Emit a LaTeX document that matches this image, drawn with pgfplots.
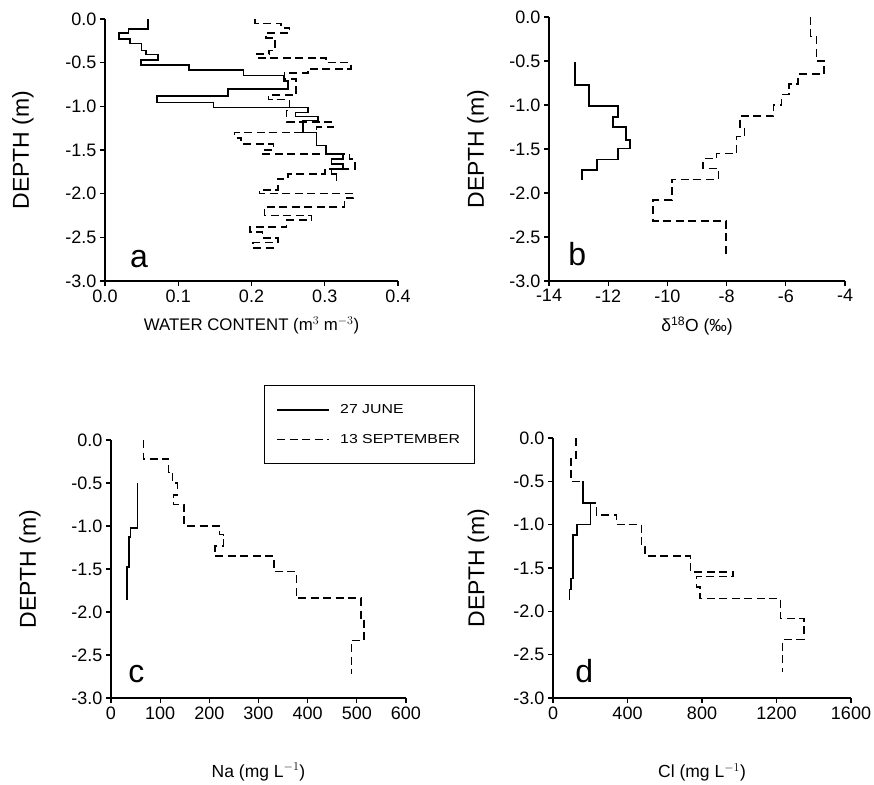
\documentclass[border=0pt]{standalone}
\usepackage{fontspec}
\setmainfont{Liberation Sans}
\newfontfamily\legfont[FakeStretch=1.22]{Liberation Sans}
\usepackage{pgfplots}
\pgfplotsset{compat=1.18}

\pgfplotsset{
  panel/.style={
    scale only axis,
    axis lines*=left,
    axis line style={line width=1.2pt},
    tick align=outside,
    major tick length=5pt,
    tick style={line width=1.1pt,black},
    ymin=-3, ymax=0,
    ytick={-3,-2.5,-2,-1.5,-1,-0.5,0},
    yticklabel style={/pgf/number format/.cd,fixed,fixed zerofill,precision=1},
    tick label style={font=\fontsize{18}{18}\selectfont},
    /pgf/number format/assume math mode=true,
    ylabel={DEPTH (m)},
    ylabel style={font=\fontsize{23}{23}\selectfont, anchor=center},
    xlabel style={font=\fontsize{17.5}{17.5}\selectfont, anchor=center},
    clip=false,
  },
}
\tikzset{
  june/.style={black, line width=1.6pt},
  sept/.style={black, line width=1.6pt, dash pattern=on 8pt off 4.5pt},
  lett/.style={anchor=south west, inner sep=0pt, font=\fontsize{32}{32}\selectfont},
}

\begin{document}
\begin{tikzpicture}
\useasboundingbox (0,0) rectangle (874pt,784pt);

% a: water content
\begin{axis}[panel, at={(105pt,503pt)}, anchor=south west,
  width=293pt, height=262pt,
  xmin=0, xmax=0.4, xtick={0,0.1,0.2,0.3,0.4},
  xticklabel style={/pgf/number format/.cd,fixed,fixed zerofill,precision=1},
  xlabel={WATER CONTENT (m$^{3}$ m$^{-3}$)},
  xlabel style={at={(axis description cs:0.5,-0.17)}, font=\fontsize{16.8}{16.8}\selectfont},
  ylabel style={at={(axis description cs:-0.28,0.5)}},
]
\addplot[june] coordinates {
(0.059,0) (0.059,-0.114) (0.032,-0.114) (0.032,-0.16) (0.0195,-0.16) (0.0195,-0.228)
(0.034,-0.228) (0.034,-0.281) (0.05,-0.281) (0.05,-0.361) (0.056,-0.361) (0.056,-0.406)
(0.072,-0.406) (0.072,-0.471) (0.049,-0.471) (0.049,-0.524) (0.115,-0.524) (0.115,-0.585)
(0.189,-0.585) (0.189,-0.646) (0.244,-0.646) (0.244,-0.71) (0.25,-0.71) (0.25,-0.805)
(0.168,-0.805) (0.168,-0.88) (0.071,-0.88) (0.071,-0.957) (0.148,-0.957) (0.148,-1.014)
(0.277,-1.014) (0.277,-1.07) (0.26,-1.07) (0.26,-1.116) (0.291,-1.116) (0.291,-1.16)
(0.27,-1.16) (0.27,-1.30) (0.289,-1.30) (0.289,-1.45) (0.302,-1.45) (0.302,-1.546)
(0.325,-1.546) (0.325,-1.60) (0.309,-1.60) (0.309,-1.66) (0.325,-1.66) (0.325,-1.716)
(0.309,-1.716) (0.309,-1.773) (0.316,-1.773) (0.316,-1.85)
};
\addplot[sept] coordinates {
(0.205,0) (0.205,-0.05) (0.24,-0.05) (0.24,-0.10) (0.252,-0.10) (0.252,-0.16)
(0.22,-0.16) (0.22,-0.215) (0.232,-0.215) (0.232,-0.36) (0.224,-0.36) (0.224,-0.40)
(0.207,-0.40) (0.207,-0.445) (0.302,-0.445) (0.302,-0.50) (0.336,-0.50) (0.336,-0.57)
(0.277,-0.57) (0.277,-0.62) (0.245,-0.62) (0.245,-0.69) (0.261,-0.69) (0.261,-0.873)
(0.223,-0.873) (0.223,-0.92) (0.252,-0.92) (0.252,-1.05) (0.248,-1.05) (0.248,-1.177)
(0.311,-1.177) (0.311,-1.24) (0.289,-1.24) (0.289,-1.30) (0.177,-1.30) (0.177,-1.36)
(0.186,-1.36) (0.186,-1.43) (0.23,-1.43) (0.23,-1.50) (0.216,-1.50) (0.216,-1.546)
(0.334,-1.546) (0.334,-1.60) (0.341,-1.60) (0.341,-1.716) (0.30,-1.716) (0.30,-1.773)
(0.25,-1.773) (0.25,-1.83) (0.236,-1.83) (0.236,-1.96) (0.211,-1.96) (0.211,-2.0)
(0.339,-2.0) (0.339,-2.05) (0.327,-2.05) (0.327,-2.15) (0.218,-2.15) (0.218,-2.25)
(0.282,-2.25) (0.282,-2.30) (0.248,-2.30) (0.248,-2.38) (0.198,-2.38) (0.198,-2.44)
(0.215,-2.44) (0.215,-2.506) (0.236,-2.506) (0.236,-2.56) (0.202,-2.56) (0.202,-2.62)
(0.232,-2.62)
};
\node[lett] at (rel axis cs:0.085,0.05) {a};
\end{axis}

% b: delta 18O
\begin{axis}[panel, at={(549pt,503pt)}, anchor=south west,
  width=296pt, height=264pt,
  xmin=-14, xmax=-4, xtick={-14,-12,-10,-8,-6,-4},
  xlabel={δ\textsuperscript{18}O (‰)},
  xlabel style={at={(axis description cs:0.5,-0.17)}},
  ylabel style={at={(axis description cs:-0.24,0.5)}},
]
\addplot[june] coordinates {
(-13.12,-0.51) (-13.12,-0.776) (-12.64,-0.776) (-12.64,-1.014) (-11.66,-1.014) (-11.66,-1.135)
(-11.83,-1.135) (-11.83,-1.249) (-11.40,-1.249) (-11.40,-1.40) (-11.26,-1.40) (-11.26,-1.494)
(-11.66,-1.494) (-11.66,-1.62) (-12.37,-1.62) (-12.37,-1.74) (-12.885,-1.74) (-12.885,-1.854)
};
\addplot[sept] coordinates {
(-5.16,0) (-5.16,-0.22) (-4.97,-0.22) (-4.97,-0.5) (-4.71,-0.5) (-4.71,-0.65)
(-5.58,-0.65) (-5.58,-0.76) (-5.9,-0.76) (-5.9,-0.88) (-6.14,-0.88) (-6.14,-1.0)
(-6.42,-1.0) (-6.42,-1.127) (-7.55,-1.127) (-7.55,-1.25) (-7.4,-1.25) (-7.4,-1.36)
(-7.66,-1.36) (-7.66,-1.55) (-8.34,-1.55) (-8.34,-1.607) (-8.79,-1.607) (-8.79,-1.72)
(-8.28,-1.72) (-8.28,-1.846) (-9.85,-1.846) (-9.85,-2.08) (-10.48,-2.08) (-10.48,-2.32)
(-8.02,-2.32) (-8.02,-2.705)
};
\node[lett] at (rel axis cs:0.065,0.057) {b};
\end{axis}

% c: Na
\begin{axis}[panel, at={(111pt,86pt)}, anchor=south west,
  width=295pt, height=258pt,
  xmin=0, xmax=600, xtick={0,100,...,600},
  xlabel={Na (mg L$^{-1}$)},
  xlabel style={at={(axis description cs:0.5,-0.287)}},
  ylabel style={at={(axis description cs:-0.275,0.5)}},
  legend style={at={(axis description cs:0.519,1.213)}, anchor=north west,
    draw=black, line width=1pt, font=\legfont\fontsize{13}{13}\selectfont,
    inner xsep=12pt, inner ysep=19pt, row sep=19pt, cells={anchor=west},
    nodes={inner ysep=0pt, inner xsep=2pt}},
  /tikz/every odd column/.append style={column sep=8pt},
  legend image code/.code={\draw[#1] (0pt,0pt) -- (52pt,0pt);},
]
\addplot[june] coordinates {
(54,-0.5) (54,-1.02) (40,-1.02) (40,-1.13) (36,-1.13) (36,-1.48) (33,-1.48) (33,-1.86)
};
\addlegendentry{27 JUNE}
\addplot[sept] coordinates {
(66,0) (66,-0.22) (117,-0.22) (117,-0.38) (125,-0.38) (125,-0.50) (135,-0.50) (135,-0.64)
(127,-0.64) (127,-0.75) (149,-0.75) (149,-1.0) (221,-1.0) (221,-1.10) (229,-1.10) (229,-1.23)
(212,-1.23) (212,-1.35) (331,-1.35) (331,-1.53) (377,-1.53) (377,-1.84) (508,-1.84) (508,-2.08)
(515,-2.08) (515,-2.33) (489,-2.33) (489,-2.72)
};
\addlegendentry{13 SEPTEMBER}
\node[lett] at (rel axis cs:0.058,0.058) {c};
\end{axis}

% d: Cl
\begin{axis}[panel, at={(553pt,86pt)}, anchor=south west,
  width=298pt, height=260pt,
  xmin=0, xmax=1600, xtick={0,400,800,1200,1600},
  xticklabel style={/pgf/number format/1000 sep={}},
  xlabel={Cl (mg L$^{-1}$)},
  xlabel style={at={(axis description cs:0.5,-0.287)}},
  ylabel style={at={(axis description cs:-0.25,0.5)}},
]
\addplot[june] coordinates {
(161,-0.5) (161,-0.75) (202,-0.75) (202,-1.0) (129,-1.0) (129,-1.12) (108,-1.12) (108,-1.62)
(98,-1.62) (98,-1.75) (88,-1.75) (88,-1.87)
};
\addplot[sept] coordinates {
(122,0) (122,-0.23) (95,-0.23) (95,-0.5) (161,-0.5) (161,-0.75) (233,-0.75) (233,-0.887)
(340,-0.887) (340,-1.0) (475,-1.0) (475,-1.253) (493,-1.253) (493,-1.36) (738,-1.36) (738,-1.543)
(967,-1.543) (967,-1.6) (770,-1.6) (770,-1.716) (788,-1.716) (788,-1.851) (1222,-1.851) (1222,-2.083)
(1347,-2.083) (1347,-2.325) (1233,-2.325) (1233,-2.70)
};
\node[lett] at (rel axis cs:0.074,0.058) {d};
\end{axis}
\end{tikzpicture}
\end{document}
